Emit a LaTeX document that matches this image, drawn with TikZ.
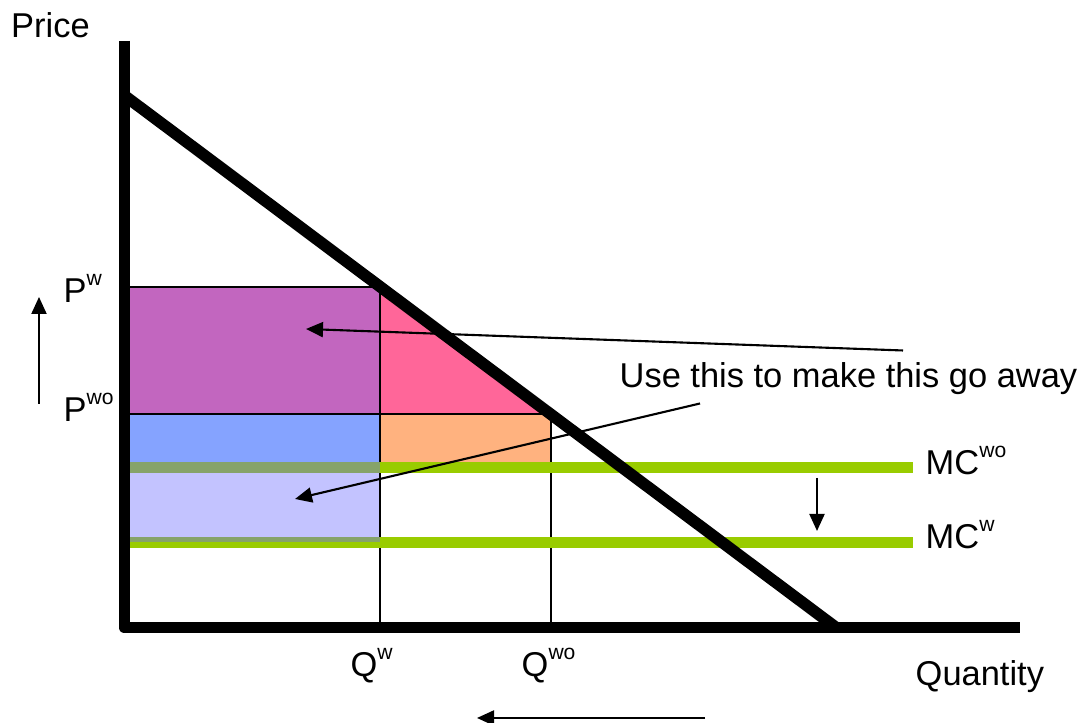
\documentclass[tikz,border=0pt]{standalone}
\usepackage{fontspec}
\setmainfont{Liberation Sans}
\usetikzlibrary{arrows.meta}

\definecolor{surplusW}{HTML}{C266BF}
\definecolor{dwlW}{HTML}{FF6699}
\definecolor{costWO}{HTML}{85A3FF}
\definecolor{savedMC}{HTML}{C3C3FF}
\definecolor{dwlWO}{HTML}{FFB27F}
\definecolor{mcgreen}{HTML}{99CC00}
\definecolor{mcshade}{HTML}{86A36A}

\newcommand{\supr}[1]{\raisebox{4.9pt}{\fontsize{6}{7}\selectfont #1}}

\begin{document}
\begin{tikzpicture}[font=\fontsize{9.8}{12}\selectfont,
  lbl/.style={anchor=base west, inner sep=0pt},
  guide/.style={line width=0.55pt},
  note/.style={line width=0.6pt, -{Triangle[length=0.17cm,width=0.15cm]}}]
  \useasboundingbox (0,0) rectangle (10.80,7.23);

  % ---------- shaded areas ----------
  \fill[surplusW] (1.245,3.09) rectangle (3.80,4.36);
  \fill[dwlW] (3.80,4.36) -- (3.80,3.09) -- (5.51,3.09) -- cycle;
  \fill[costWO] (1.245,2.555) rectangle (3.80,3.09);
  \fill[dwlWO] (3.80,2.555) rectangle (5.51,3.09);
  \fill[savedMC] (1.245,1.805) rectangle (3.80,2.555);

  % ---------- price / quantity guides ----------
  \draw[guide] (1.245,4.36) -- (3.80,4.36) -- (3.80,0.955);
  \draw[guide] (1.245,3.09) -- (5.51,3.09) -- (5.51,0.955);

  % ---------- marginal cost lines ----------
  \fill[mcgreen] (1.245,2.50) rectangle (9.13,2.61);
  \fill[mcshade] (1.245,2.50) rectangle (3.80,2.61);
  \fill[mcgreen] (1.245,1.75) rectangle (9.13,1.86);
  \fill[mcshade] (1.245,1.805) rectangle (3.80,1.86);

  % ---------- axes + demand ----------
  \draw[line width=3.4pt, line join=round] (1.245,6.82) -- (1.245,0.955) -- (10.20,0.955);
  \draw[line width=3.3pt] (1.25,6.27) -- (8.36,0.955);

  % ---------- labels ----------
  \node[lbl] (price) at (0.105,6.853) {Price};
  \node[lbl] (qty) at (9.15,0.37) {Quantity};
  \node[lbl] (pw) at (0.63,4.20) {P\supr{w}};
  \node[lbl] (pwo) at (0.63,3.01) {P\supr{wo}};
  \node[lbl] (qw) at (3.50,0.465) {Q\supr{w}};
  \node[lbl] (qwo) at (5.21,0.465) {Q\supr{wo}};
  \node[lbl] (mcwo) at (9.25,2.48) {MC\supr{wo}};
  \node[lbl] (mcw) at (9.25,1.74) {MC\supr{w}};
  \node[lbl] (useit) at (6.19,3.35) {Use this to make this go away};

  % ---------- arrows ----------
  \coordinate (tailA) at (9.03,3.725);
  \coordinate (headA) at (3.06,3.94);
  \coordinate (tailB) at (7.00,3.195);
  \coordinate (headB) at (2.95,2.24);
  \draw[note] (tailA) -- (headA);
  \draw[note] (tailB) -- (headB);

  \coordinate (upLo) at (0.39,3.19);
  \coordinate (upHi) at (0.39,4.26);
  \draw[note] (upLo) -- (upHi);
  \coordinate (dnHi) at (8.17,2.45);
  \coordinate (dnLo) at (8.17,1.92);
  \draw[note] (dnHi) -- (dnLo);
  \coordinate (ltR) at (7.05,0.05);
  \coordinate (ltL) at (4.77,0.05);
  \draw[note] (ltR) -- (ltL);

\end{tikzpicture}
\end{document}
